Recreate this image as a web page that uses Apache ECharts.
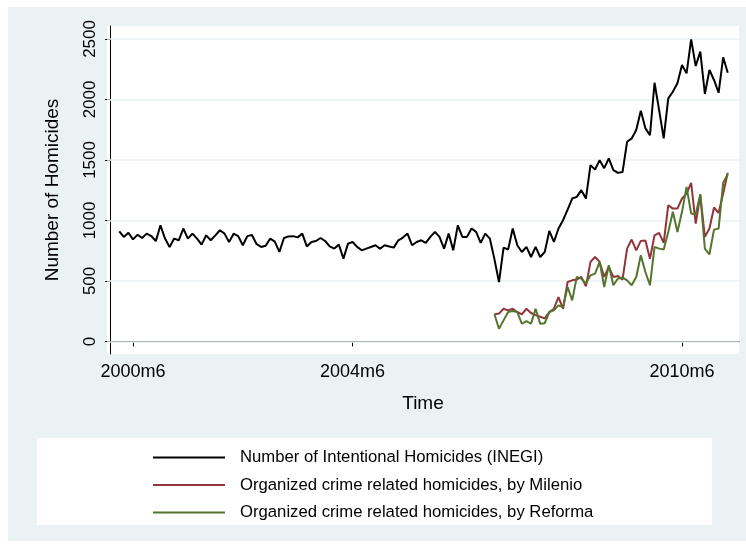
<!DOCTYPE html>
<html>
<head>
<meta charset="utf-8">
<script src="https://cdn.jsdelivr.net/npm/echarts@6/dist/echarts.min.js"></script>
<style>
html, body { margin: 0; background: #fff; }
#main { width: 746px; height: 548px; }
</style>
</head>
<body>
<div id="main"></div>
<script>
// tick labels on the time axis, and y ticks
var tickLabels = ['2000m6', '2004m6', '2010m6']
var yTicks = [0, 500, 1000, 1500, 2000, 2500]

// INEGI monthly homicides, from 2000m3
var inegiStart = '2000m3'
var inegi = [910, 864, 898, 843, 882, 855, 891, 871, 829, 960, 850, 781, 850, 836, 933, 850, 891, 850, 800, 877,
    836, 877, 919, 891, 822, 890,
    870, 795, 870, 880, 805, 781, 790, 850, 825, 740, 855, 868, 870, 860, 891, 785, 822, 830, 855, 830,
    785, 767, 800, 684, 808,
    822, 781, 753, 767, 780, 795, 767, 795, 785, 775, 836, 858, 891, 795, 822, 836, 814, 864, 905, 864,
    767, 891, 753, 960, 864, 864, 933, 905, 814, 891, 850, 680, 491,
    775, 760, 933, 795, 739, 781, 698, 781, 698, 739, 913, 822, 933, 1002, 1090, 1181, 1195, 1250, 1181,
    1457, 1421, 1498, 1432, 1512,
    1416, 1393, 1400, 1650, 1678, 1747, 1907, 1761, 1705, 2138, 1912, 1678, 2009, 2064, 2133, 2285, 2216,
    2497, 2276, 2395, 2045, 2243, 2161, 2055, 2348, 2221]

// organized crime related homicides, from 2007m1
var crimeStart = '2007m1'
var milenio = [224, 230, 270, 257, 270, 243, 224, 270, 235, 218, 204, 190, 243, 270, 367, 270, 491, 505, 511,
    533, 455, 657, 698, 657, 533, 615, 533, 540, 510,
    767, 842, 753, 831, 835, 684, 877, 897, 814, 1126, 1098, 1098, 1181, 1222, 1311, 974, 1209, 864, 933,
    1107, 1062, 1222, 1393]
var reforma = [224, 105, 174, 243, 251, 243, 146, 168, 146, 270, 146, 151, 243, 257, 298, 284, 450, 339, 533,
    519, 478, 546, 560, 657, 450, 629, 464, 520,
    529, 505, 464, 533, 712, 574, 464, 781, 767, 759, 905, 1071, 905, 1071, 1277, 1057, 1052, 1217, 767,
    720, 924, 933, 1311, 1382]

var names = ['Number of Intentional Homicides (INEGI)',
    'Organized crime related homicides, by Milenio',
    'Organized crime related homicides, by Reforma']

// "2004m6" -> months since 2000m1
function monthIndex(s) {
    var p = s.split('m')
    return (+p[0] - 2000) * 12 + (+p[1] - 1)
}

function toPairs(start, values) {
    var m0 = monthIndex(start)
    return values.map(function (v, i) { return [m0 + i, v] })
}

var tickPos = tickLabels.map(monthIndex)

var myChart = echarts.init(document.getElementById('main'))

var option = {
    backgroundColor: '#fff',
    animation: false,
    textStyle: { fontFamily: 'Liberation Sans, Arial, sans-serif', color: '#000' },
    graphic: [
        // outer region
        { type: 'rect', z: -10, shape: { x: 8, y: 7, width: 738, height: 534 }, style: { fill: '#EAF2F3' } },
        // legend box
        { type: 'rect', z: -9, shape: { x: 37, y: 438, width: 675, height: 87 }, style: { fill: '#fff' } }
    ],
    grid: {
        left: 107, top: 26, width: 632, height: 328,
        show: true, backgroundColor: '#fff', borderWidth: 0
    },
    legend: {
        orient: 'vertical',
        left: 153, top: 449, padding: 0,
        icon: 'rect',
        itemWidth: 72, itemHeight: 2, itemGap: 10.5,
        textStyle: { fontSize: 16.7, lineHeight: 16, color: '#000', padding: [0, 0, 0, 10] },
        data: names
    },
    xAxis: {
        type: 'value',
        min: -0.68, max: 137.46,
        name: 'Time', nameLocation: 'middle', nameGap: 40,
        nameTextStyle: { fontSize: 19, color: '#000' },
        axisLine: { lineStyle: { color: '#000', width: 1 } },
        axisTick: { show: true, length: 5, lineStyle: { color: '#000' }, customValues: tickPos },
        axisLabel: {
            fontSize: 18, color: '#000', margin: 9,
            customValues: tickPos,
            formatter: function (v) { return tickLabels[tickPos.indexOf(v)] }
        },
        splitLine: { show: false }
    },
    yAxis: {
        type: 'value',
        min: -104, max: 2607,
        name: 'Number of Homicides', nameLocation: 'middle', nameGap: 45,
        nameTextStyle: { fontSize: 19, color: '#000' },
        axisLine: { show: true, lineStyle: { color: '#000', width: 1 } },
        axisTick: { show: true, length: 5, lineStyle: { color: '#000' }, customValues: yTicks },
        axisLabel: {
            fontSize: 17, color: '#000', rotate: 90, margin: 8, customValues: yTicks,
            formatter: function (v) { return String(v) }
        },
        splitLine: { show: false }
    },
    series: [
        {
            // grid lines
            type: 'line', data: [], z: 1, silent: true,
            markLine: {
                z: 1, silent: true, symbol: 'none', label: { show: false },
                lineStyle: { color: '#EAF2F3', width: 1.5, type: 'solid' },
                data: yTicks.map(function (t) { return { yAxis: t } })
            }
        },
        {
            name: names[0], type: 'line', z: 3, symbol: 'none',
            lineStyle: { color: '#000', width: 2 }, itemStyle: { color: '#000' },
            data: toPairs(inegiStart, inegi)
        },
        {
            name: names[1], type: 'line', z: 3, symbol: 'none',
            lineStyle: { color: '#90353B', width: 2 }, itemStyle: { color: '#90353B' },
            data: toPairs(crimeStart, milenio)
        },
        {
            name: names[2], type: 'line', z: 3, symbol: 'none',
            lineStyle: { color: '#55752F', width: 2 }, itemStyle: { color: '#55752F' },
            data: toPairs(crimeStart, reforma)
        }
    ]
}

myChart.setOption(option)
</script>
</body>
</html>
